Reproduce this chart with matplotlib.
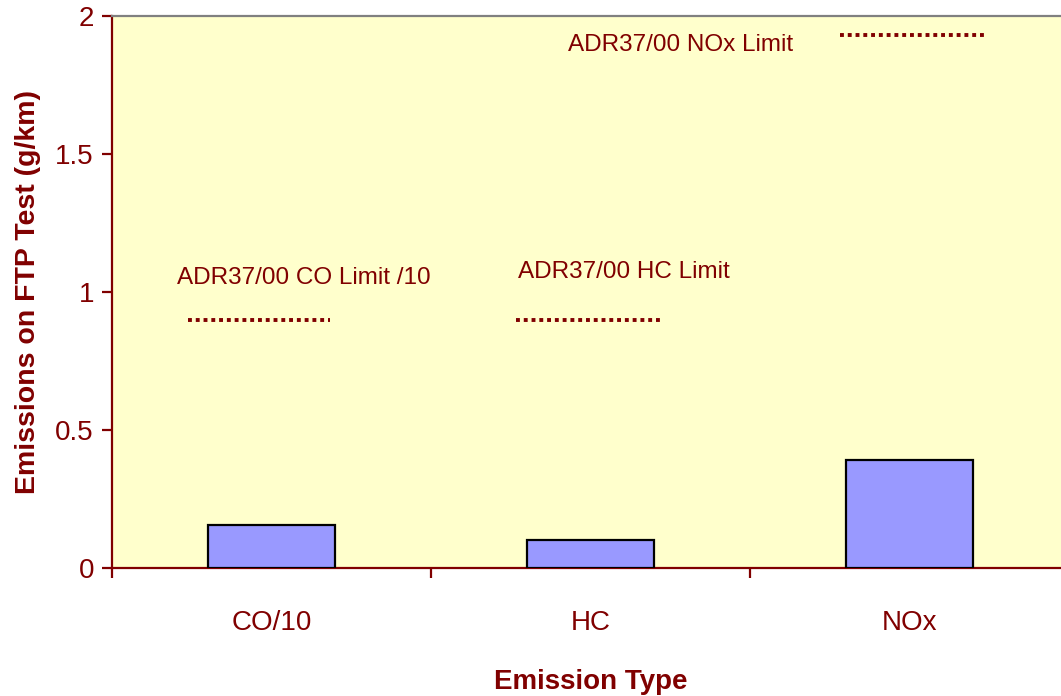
import matplotlib
matplotlib.use("Agg")
import matplotlib.pyplot as plt
import numpy as np

plt.rcParams['font.family'] = ['Liberation Sans', 'DejaVu Sans']

# data
categories = ['CO/10', 'HC', 'NOx']
emissions = [0.155, 0.10, 0.39]
limits = [0.90, 0.90, 1.93]
limit_labels = ['ADR37/00 CO Limit /10', 'ADR37/00 HC Limit', 'ADR37/00 NOx Limit']
limit_start = [-0.263, -0.235, -0.219]
limit_end = [0.182, 0.226, 0.235]

dark_red = '#800000'

fig = plt.figure(figsize=(10.61, 6.96), dpi=100)
# plot area runs slightly past the right edge of the image
ax = fig.add_axes([112 / 1061, 128 / 696, 957 / 1061, 552 / 696])
ax.set_facecolor('#FFFFCC')

x = np.arange(len(categories))
ax.bar(x, emissions, width=0.40, color='#9999FF', edgecolor='black',
       linewidth=1.6, zorder=3)

for i, lim in enumerate(limits):
    ax.hlines(lim, x[i] + limit_start[i], x[i] + limit_end[i], colors=dark_red,
              linestyles=(0, (1, 1)), linewidth=2.8, zorder=4)

# annotations for the limit lines
ax.text(x[0] - 0.295, 1.051, limit_labels[0], color=dark_red, fontsize=17.5,
        ha='left', va='center')
ax.text(x[1] - 0.226, 1.072, limit_labels[1], color=dark_red, fontsize=17.5,
        ha='left', va='center')
ax.text(x[2] - 1.072, 1.895, limit_labels[2], color=dark_red, fontsize=17.5,
        ha='left', va='center')

ax.set_xlim(-0.5, len(categories) - 0.5)
ax.set_ylim(0, 2)
ax.set_yticks([0, 0.5, 1, 1.5, 2])
ax.set_yticklabels(['0', '0.5', '1', '1.5', '2'])
ax.set_xticks(x)
ax.set_xticklabels(categories)
ax.set_xticks(np.arange(-0.5, len(categories), 1.0), minor=True)

ax.tick_params(axis='x', which='major', length=0, pad=30, labelsize=20,
               labelcolor=dark_red)
ax.tick_params(axis='x', which='minor', length=7, width=1.6, color=dark_red,
               direction='out')
ax.tick_params(axis='y', length=7, width=1.6, color=dark_red, direction='out',
               labelsize=20, labelcolor=dark_red, pad=6)

ax.spines['left'].set_color(dark_red)
ax.spines['left'].set_linewidth(1.6)
ax.spines['bottom'].set_color(dark_red)
ax.spines['bottom'].set_linewidth(1.6)
ax.spines['top'].set_color('#808080')
ax.spines['top'].set_linewidth(1.6)
ax.spines['right'].set_visible(False)

ax.set_xlabel('Emission Type', fontsize=20, fontweight='bold', color=dark_red,
              labelpad=24)
ax.set_ylabel('Emissions on FTP Test (g/km)', fontsize=20.5, fontweight='bold',
              color=dark_red, labelpad=10)

fig.savefig('out.png', dpi=100)
